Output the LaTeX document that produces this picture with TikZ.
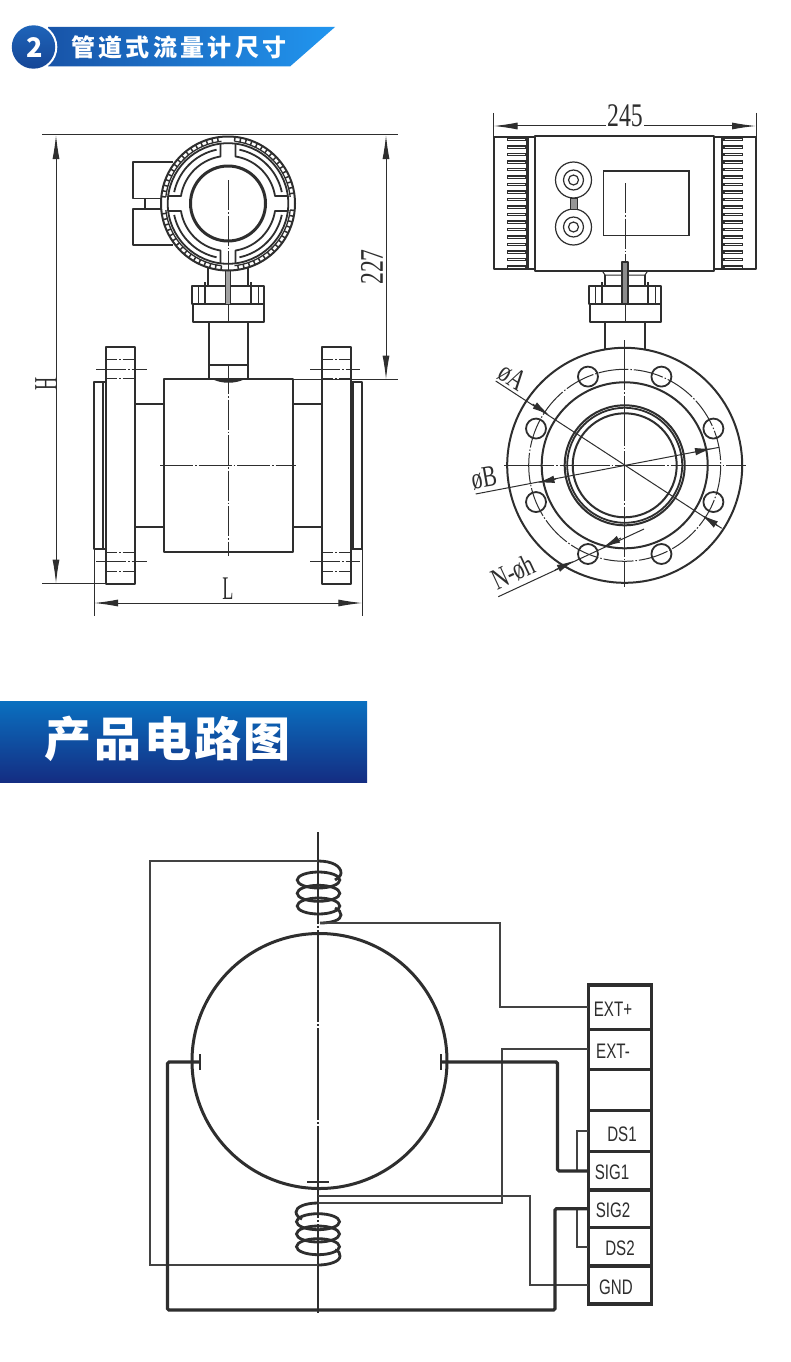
\documentclass[tikz,border=0pt]{standalone}
\usepackage{fontspec}
\usepackage{graphicx}
\usetikzlibrary{arrows.meta}
\setmainfont{Liberation Serif}
\newfontfamily\cjkA[LetterSpace=14]{Noto Sans CJK SC}
\newfontfamily\cjkB[LetterSpace=6]{Noto Sans CJK SC}
\newfontfamily\termfont{Liberation Sans}
\definecolor{ink}{HTML}{2E2E2E}
\definecolor{bannerL}{RGB}{24,84,168}
\definecolor{bannerR}{RGB}{33,150,240}
\definecolor{discT}{RGB}{30,100,185}
\definecolor{discB}{RGB}{22,70,150}
\definecolor{headT}{RGB}{10,112,192}
\definecolor{headB}{RGB}{20,45,130}
\newcommand{\dimtext}[2][.72]{\scalebox{#1}[1]{\fontsize{33}{33}\selectfont #2}}
\newcommand{\smalldim}[1]{\scalebox{.72}[1]{\fontsize{30}{30}\selectfont #1}}
\newcommand{\termtext}[1]{\scalebox{.72}[1]{\termfont\fontsize{21}{21}\selectfont #1}}
\tikzset{
  part/.style={draw=ink,line width=1.8pt,line join=round},
  fine/.style={draw=ink,line width=1pt},
  centre/.style={draw=ink,line width=1pt,dash pattern=on 30pt off 2pt on 1.5pt off 2pt},
  dimline/.style={draw=ink,line width=1pt},
  dimtip/.style={draw=ink,line width=1pt,-{Latex[length=24pt,width=7pt]}},
  smalltip/.style={draw=ink,line width=1pt,-{Latex[length=17pt,width=7.5pt]}},
  wire/.style={draw=ink!90,line width=1.8pt},
  thickwire/.style={draw=ink,line width=3.2pt,rounded corners=1.5pt},
  coilline/.style={draw=ink,line width=2.8pt},
  cell/.style={draw=ink,line width=3.2pt,minimum width=63.4pt,inner sep=0pt,outer sep=0pt},
  lbl/.style={text=ink,inner sep=0pt},
}
\newcommand{\nutassembly}{%
  \draw[part] (-36,286) rectangle (36,304);
  \draw[part] (-35,304) rectangle (36,322);
  \foreach \s in {-1,1} {
    \draw[fine] (\s*30,286) -- (\s*30,304);
    \draw[part,line width=1.2pt] (\s*23,282) -- (\s*23,304);
  }
}
\begin{document}
\begin{tikzpicture}[x=1pt,y=-1pt]
\useasboundingbox (0,0) rectangle (790,1362);
\fill[white] (0,0) rectangle (790,1362);

% ---- heading 1
\shade[left color=bannerL,right color=bannerR]
  (48,27) -- (335,27) -- (290,66.5) -- (48,66.5) -- cycle;
\fill[white] (33.5,47) circle [radius=23.8];
\shade[top color=discT,bottom color=discB] (33.5,47) circle [radius=21.7];
\node[text=white,inner sep=0pt] (num) at (34.5,47.5) {\cjkB\bfseries\fontsize{27}{27}\selectfont 2};
\node[text=white,inner sep=0pt,anchor=west] (head1) at (71,47.5) {\cjkA\bfseries\fontsize{24}{24}\selectfont 管道式流量计尺寸};

% ---- heading 2
\shade[top color=headT,bottom color=headB] (0,701) rectangle (367,782);
\node[text=white,inner sep=0pt,anchor=west] (head2) at (44.5,739) {\cjkB\bfseries\fontsize{47}{47}\selectfont 产品电路图};

% ---- left view
\foreach \m/\a/\b in {0/106/134.7,1/322.3/350.7} {
  \draw[part,line width=2pt] (\a,347.3) rectangle (\b,583.5);
}
\draw[part] (94,382.3) rectangle (106,549);
\draw[part] (103.3,382.3) -- (103.3,549);
\draw[part] (352.7,382.3) rectangle (362.3,549);
\draw[part] (350.7,382.3) -- (352.7,382.3) (350.7,549) -- (352.7,549);
\foreach \y in {404,527} {
  \draw[part] (134.7,\y) -- (164,\y);
  \draw[part] (293,\y) -- (322.3,\y);
}
\foreach \y/\ya/\yb in {369/359/378.7,561.7/552/571.7} {
  \draw[centre] (96,\y) -- (146.7,\y);
  \draw[centre] (310,\y) -- (360,\y);
  \foreach \yy in {\ya,\yb} {
    \draw[fine,dash pattern=on 11pt off 2pt on 1.5pt off 2pt] (106,\yy) -- (134.7,\yy);
    \draw[fine,dash pattern=on 11pt off 2pt on 1.5pt off 2pt] (322.3,\yy) -- (350.7,\yy);
  }
}
\draw[part,line width=2pt] (164,379) rectangle (293,552);
\draw[centre,dash pattern=on 33pt off 2pt on 1.5pt off 2pt] (160,465.5) -- (296,465.5);
\draw[part] (209,322) -- (209,379) (248,322) -- (248,379);
\draw[part] (209,365) -- (248,365);
\fill[ink] (212,379) .. controls (222,384) and (235,384) .. (245,379) -- cycle;
\draw[centre] (228,364) -- (228,556);
\begin{scope}[shift={(228,0)}]
  \nutassembly
\end{scope}
\draw[part] (208,268) -- (208,286) (248,268) -- (248,286);
\draw[fine,fill=ink!45] (225.5,270) rectangle (230.5,304);
\draw[fine] (228,304) -- (228,322);
% connection boxes
\draw[part] (173,162.3) -- (133.3,162.3) -- (133.3,198.5) -- (165,198.5);
\draw[part] (165,209) -- (133.3,209) -- (133.3,245) -- (173,245);
\draw[part] (145,198.5) -- (145,209);
% transmitter head
\draw[part,fill=white,line width=2pt] (228,203.5) circle [radius=67];
\draw[part] (228,203.5) circle [radius=60.3];
\foreach \q in {0,90,180,270} {
  \begin{scope}[shift={(228,203.5)},rotate=\q]
    \draw[part,line width=1.3pt] plot[domain=6:84,samples=30,variable=\ang] ({62.5*cos(\ang)},{62.5*sin(\ang)});
    \foreach \tooth in {6,11,...,84} {
      \draw[ink,line width=1.5pt] ({62.5*cos(\tooth)},{62.5*sin(\tooth)}) -- ({67*cos(\tooth)},{67*sin(\tooth)});
    }
    \draw[part] (7.5,60) -- (7.5,47) -- plot[domain=81:9,samples=30,variable=\ang] ({47.6*cos(\ang)},{47.6*sin(\ang)}) -- (60,7.5);
    \draw[part] plot[domain=78:12,samples=30,variable=\ang] ({55*cos(\ang)},{55*sin(\ang)});
  \end{scope}
}
\draw[part,line width=3pt] (228,203.5) circle [radius=37.5];
\draw[centre,dash pattern=on 30pt off 2pt on 1.5pt off 2pt] (228,180) -- (228,270);

% left dimensions
\coordinate (hTop) at (56,135);
\coordinate (hBot) at (56,583.5);
\coordinate (hMid) at (56,380);
\coordinate (topL) at (42,135);
\coordinate (topR) at (398,135);
\coordinate (botL) at (42,583.5);
\coordinate (botR) at (106,583.5);
\coordinate (midL) at (293,379.5);
\coordinate (midR) at (398,379.5);
\draw[dimline] (topL) -- (topR);
\draw[dimline] (botL) -- (botR);
\draw[dimline] (midL) -- (midR);
\draw[dimtip] (hMid) -- (hTop);
\draw[dimtip] (hMid) -- (hBot);
\coordinate (sTop) at (386,135);
\coordinate (sBot) at (386,379.5);
\coordinate (sMid) at (386,260);
\draw[dimtip] (sMid) -- (sTop);
\draw[dimtip] (sMid) -- (sBot);
\node[lbl,rotate=90] (dimH) at (46,384) {\dimtext[.55]{H}};
\node[lbl,rotate=90] (dim227) at (372,267) {\dimtext{227}};
\coordinate (lL) at (94,603);
\coordinate (lR) at (362.3,603);
\coordinate (lM) at (228,603);
\draw[dimtip] (lM) -- (lL);
\draw[dimtip] (lM) -- (lR);
\draw[dimline] (94,549) -- (94,616) (362.3,549) -- (362.3,616);
\node[lbl] (dimL) at (228,589) {\dimtext[.55]{L}};

% ---- right view
\draw[part,line width=2pt] (493.5,137) rectangle (756,269);
\draw[part,line width=2pt,fill=white] (535,136) rectangle (714,270.5);
\foreach \x/\e in {528/507,722/743} {
  \foreach \n in {0,...,17} {
    \draw[ink,line width=3.4pt] (\x,{139.5+\n*7.5}) -- (\e,{139.5+\n*7.5});
    \draw[white,line width=.9pt] ({\x+(\e-\x)*.12},{139.5+\n*7.5}) -- ({\e+(\x-\e)*.05},{139.5+\n*7.5});
  }
}
\draw[part,line width=2.4pt] (527.5,137) -- (527.5,269) (722,137) -- (722,269);
\foreach \y in {180,227} {
  \draw[fine,line width=1.2pt,fill=white] (573.5,\y) circle [radius=18];
  \draw[fine,line width=1.2pt] (573.5,\y) circle [radius=10];
  \draw[fine,line width=1.2pt] (573.5,\y) circle [radius=5];
}
\draw[fine,fill=ink!50] (570,198) rectangle (577,209);
\draw[fine,line width=1.2pt] (603.5,171) rectangle (689,235.5);
\draw[centre] (625,183) -- (625,262);
\begin{scope}[shift={(625,0)}]
  \nutassembly
\end{scope}
\draw[part] (605,275) -- (605,286) (645,275) -- (645,286);
\draw[fine] (602,270.5) .. controls (604,272) .. (605,275) -- (645,275) .. controls (646,272) .. (648,270.5);
\draw[part,fill=ink!55] (622,262) rectangle (628,304);
\draw[fine] (625,304) -- (625,322);
\draw[part] (605,322) -- (605,350) (645,322) -- (645,350);
\coordinate (wL) at (493.5,126);
\coordinate (wR) at (756,126);
\coordinate (wM) at (625,126);
\draw[dimtip] (wM) -- (wL);
\draw[dimtip] (wM) -- (wR);
\draw[dimline] (493.5,113) -- (493.5,137) (756,113) -- (756,137);
\node[lbl,fill=white,inner sep=1pt] (dim245) at (625,116) {\dimtext{245}};

% flange face
\coordinate (fc) at (624.7,465.3);
\draw[part,line width=2pt] (fc) circle [radius=117.5];
\draw[part,line width=2pt] (fc) circle [radius=83];
\draw[part,line width=2pt] (fc) circle [radius=60];
\draw[part] (fc) circle [radius=57.5];
\draw[part,line width=2pt] (fc) circle [radius=52];
\draw[fine,dash pattern=on 30pt off 2pt on 1.5pt off 2pt] (fc) circle [radius=96];
\foreach \k in {0,...,7} {
  \draw[part,line width=1.8pt] ({624.7+96*cos(22.5+45*\k)},{465.3+96*sin(22.5+45*\k)}) circle [radius=10];
}
\draw[centre,dash pattern=on 50pt off 2pt on 1.5pt off 2pt] (504,465.3) -- (746,465.3);
\draw[centre,dash pattern=on 50pt off 2pt on 1.5pt off 2pt] (624.7,340) -- (624.7,587);
% diameter dims
\coordinate (aS) at (495.7,381);
\coordinate (aE) at (721.7,528.3);
\draw[dimline] (aS) -- (aE);
\coordinate (aT1) at (532.7,404);
\coordinate (aH1) at (549,415);
\coordinate (aT2) at (718,526);
\coordinate (aH2) at (701.7,515);
\draw[smalltip] (aT1) -- (aH1);
\draw[smalltip] (aT2) -- (aH2);
\coordinate (bS) at (475.7,494);
\coordinate (bE) at (719.3,447.3);
\draw[dimline] (bS) -- (bE);
\coordinate (bT1) at (556,479);
\coordinate (bH1) at (537.5,482.7);
\coordinate (bT2) at (695,451.7);
\coordinate (bH2) at (712,448.5);
\draw[smalltip] (bT1) -- (bH1);
\draw[smalltip] (bT2) -- (bH2);
\coordinate (nS) at (498.3,596.7);
\coordinate (nE) at (644,529);
\draw[dimline] (nS) -- (nE);
\coordinate (nT1) at (555,570);
\coordinate (nH1) at (573.7,561);
\coordinate (nT2) at (621,538);
\coordinate (nH2) at (603.3,547);
\draw[smalltip] (nT1) -- (nH1);
\draw[smalltip] (nT2) -- (nH2);
\node[lbl,rotate=-33] (dimA) at (512.5,377) {\smalldim{øA}};
\node[lbl,rotate=10] (dimB) at (484,478) {\smalldim{øB}};
\node[lbl,rotate=25] (dimN) at (513,572) {\smalldim{N-øh}};

% ---- circuit
\draw[ink,line width=1.8pt,dash pattern=on 92pt off 2pt on 2pt off 2pt] (318,832) -- (318,1313);
\draw[ink,line width=3pt] (319.5,1061) circle [radius=127.5];
% terminal block
\node[cell,minimum height=44.3pt] (extp) at (620,1007.2) {};
\node[cell,minimum height=40pt] (extm) at (620,1049.3) {};
\node[cell,minimum height=41.4pt] (spare) at (620,1090) {};
\node[cell,minimum height=41pt] (ds1) at (620,1131.2) {};
\node[cell,minimum height=38.3pt] (sig1) at (620,1170.9) {};
\node[cell,minimum height=37.3pt] (sig2) at (620,1208.7) {};
\node[cell,minimum height=38.7pt] (ds2) at (620,1246.7) {};
\node[cell,minimum height=38pt] (gnd) at (620,1285) {};
\node[lbl] (textExtp) at (613,1009) {\termtext{EXT+}};
\node[lbl] (textExtm) at (613,1051) {\termtext{EXT-}};
\node[lbl] (textDs1) at (622,1134) {\termtext{DS1}};
\node[lbl] (textSig1) at (612,1172) {\termtext{SIG1}};
\node[lbl] (textSig2) at (613,1210) {\termtext{SIG2}};
\node[lbl] (textDs2) at (620,1248) {\termtext{DS2}};
\node[lbl] (textGnd) at (616,1287) {\termtext{GND}};
% coils
\coordinate (coilAin) at (318,861);
\coordinate (coilAout) at (320,923);
\coordinate (coilBin) at (318,1203);
\coordinate (coilBout) at (318,1265);
\foreach \y in {880,893.3,906} {
  \draw[coilline] (318.5,\y) ellipse [x radius=21.3,y radius=8];
}
\foreach \y in {1221.7,1234,1246.7} {
  \draw[coilline] (318,\y) ellipse [x radius=21.5,y radius=8];
}
\draw[coilline] (coilAin) .. controls (332,861) and (341,866) .. (341,873) .. controls (341,876) and (338,878) .. (335,880);
\draw[coilline] (335,908) .. controls (339,910) and (341,912) .. (341,915) .. controls (341,920) and (332,923) .. (coilAout);
\draw[coilline] (coilBin) .. controls (305,1203) and (296,1207) .. (296,1212) .. controls (296,1215) and (299,1218) .. (302,1219);
\draw[coilline] (335,1250) .. controls (339,1251) and (340,1253) .. (340,1256) .. controls (340,1262) and (328,1265) .. (coilBout);
% thin wires
\coordinate (w1) at (150,861);
\coordinate (w2) at (150,1265);
\draw[wire] (coilAin) -- (w1) -- (w2) -- (coilBout);
\coordinate (w3) at (500,923);
\draw[wire] (coilAout) -- (w3) |- (extp.west);
\coordinate (w4) at (502,1203);
\draw[wire] (coilBin) -- (w4) |- (extm.west);
\coordinate (w5) at (318,1196);
\coordinate (w6) at (530,1196);
\draw[wire] (w5) -- (w6) |- (gnd.west);
\coordinate (w7) at (577,1171);
\coordinate (w8) at (577,1209);
\draw[wire] (ds1.west) -| (w7);
\draw[wire] (ds2.west) -| (w8);
% electrodes
\coordinate (eL) at (200,1062);
\coordinate (eR) at (441,1062);
\draw[ink,line width=2.6pt] (200,1054) -- (200,1070);
\draw[ink,line width=2.6pt] (441,1054) -- (441,1070);
\draw[ink,line width=2.6pt] (307,1182) -- (329,1182);
\coordinate (b1) at (557.5,1062);
\draw[thickwire] (eR) -- (b1) |- (sig1.west);
\coordinate (b2) at (167.5,1062);
\coordinate (b3) at (167.5,1310);
\coordinate (b4) at (555,1310);
\draw[thickwire] (eL) -- (b2) -- (b3) -- (b4) |- (sig2.west);
\end{tikzpicture}
\end{document}
